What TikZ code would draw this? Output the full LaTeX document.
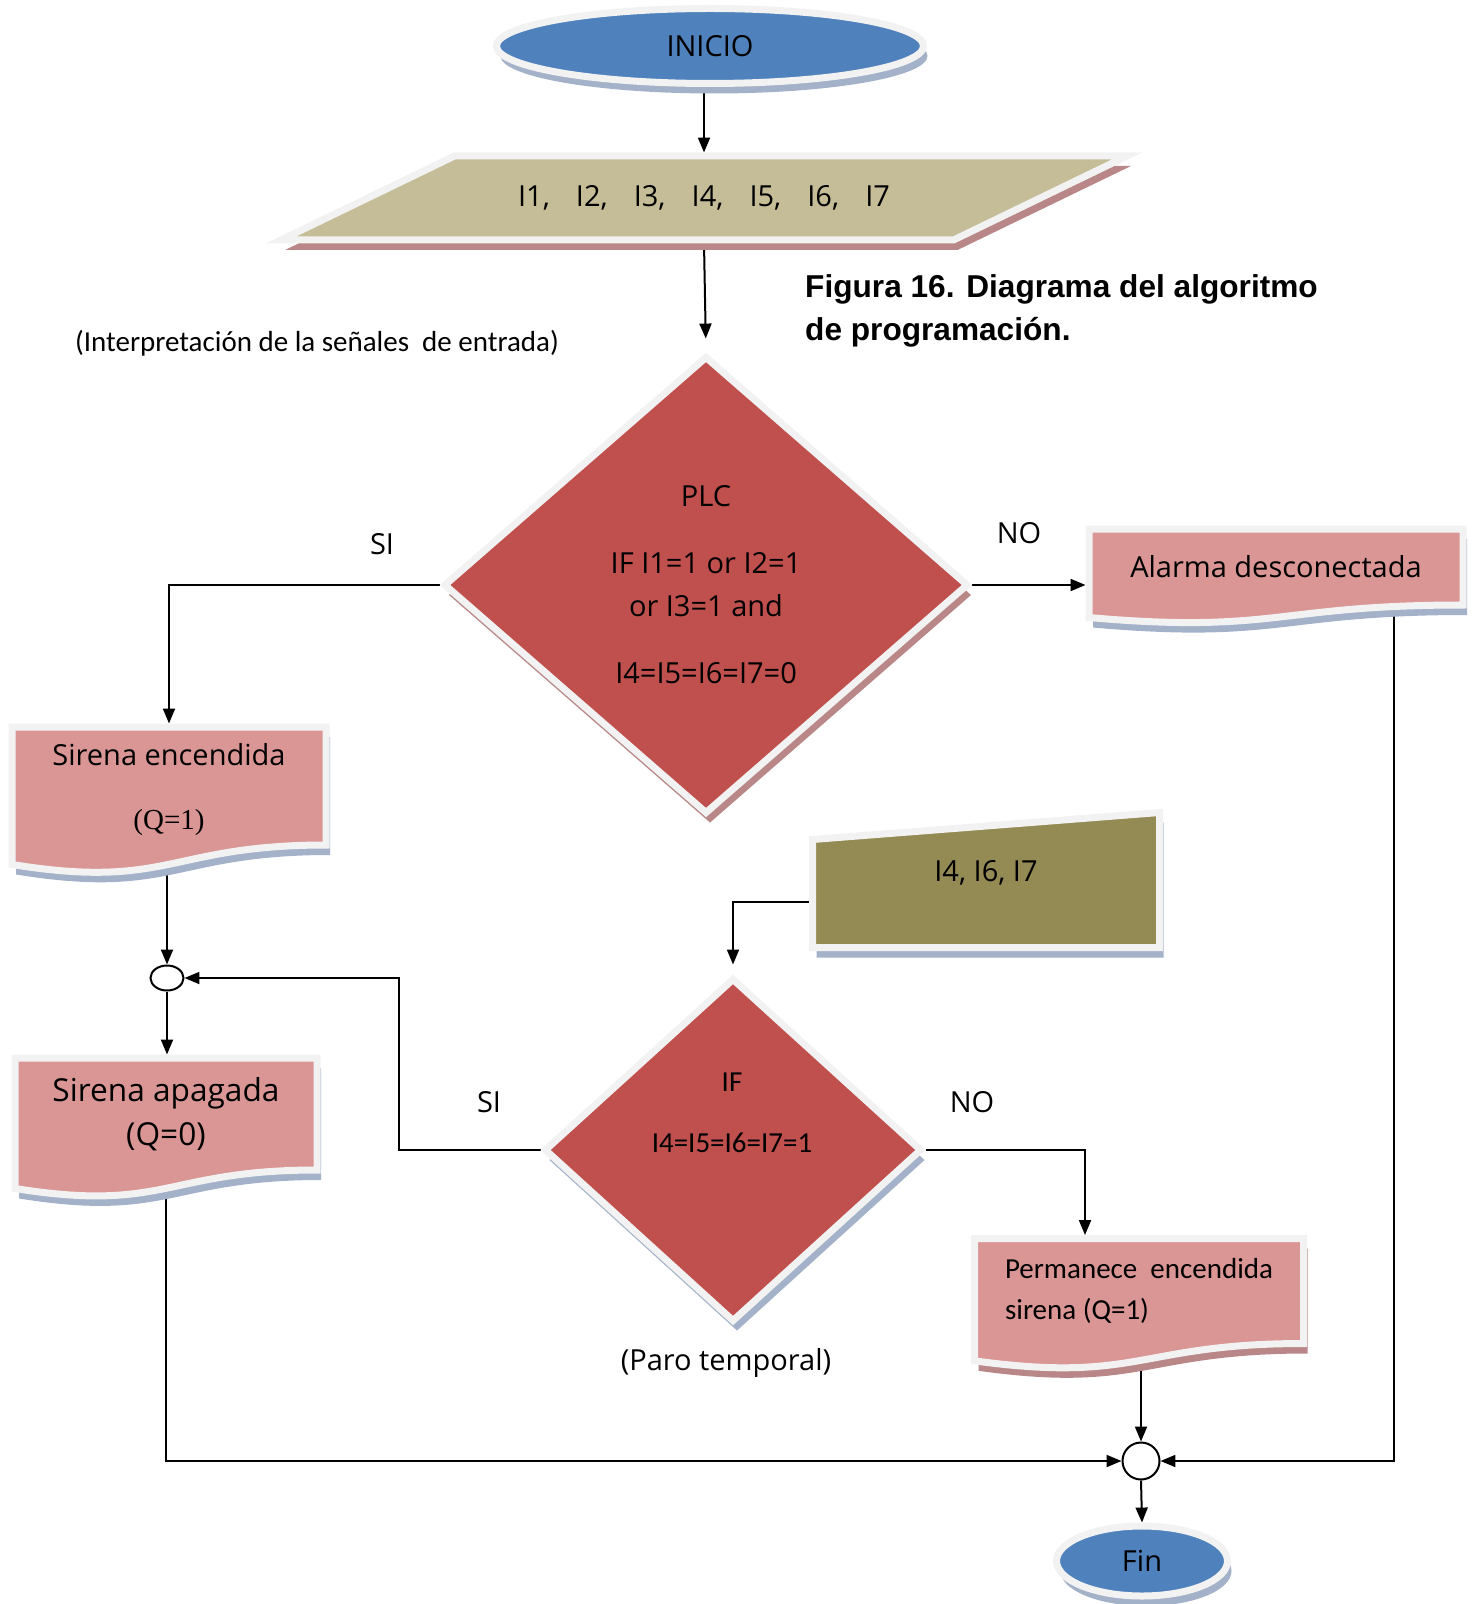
\documentclass[tikz,border=0pt]{standalone}
\usepackage{fontspec}
\setmainfont{Open Sans}
\newfontfamily\calibrifont{Carlito}
\newfontfamily\arialfont{Liberation Sans}
\newfontfamily\timesfont{Liberation Serif}
\usetikzlibrary{calc,arrows.meta,shapes.geometric,shadows,backgrounds}

\definecolor{inicioblue}{HTML}{4F81BD}
\definecolor{datostan}{HTML}{C4BD97}
\definecolor{plcred}{HTML}{C0504D}
\definecolor{docpink}{HTML}{D99694}
\definecolor{inpolive}{HTML}{948A54}
\definecolor{rimgray}{HTML}{F2F2F2}
\definecolor{shblue}{HTML}{A3B1C9}
\definecolor{shred}{HTML}{B98787}

\newdimen\pxu \pxu=0.02cm

% flowchart shapes: document (wavy bottom), manual input (sloped top), data (slanted)
\makeatletter
\newdimen\docL \newdimen\docR \newdimen\docT \newdimen\docB
\newdimen\docM \newdimen\docE \newdimen\docC
\def\docsetcorners{%
  \southwest \docL=\pgf@x \docB=\pgf@y
  \northeast \docR=\pgf@x \docT=\pgf@y
  \pgfmathsetlength\pgfutil@tempdima{\pgfkeysvalueof{/pgf/outer xsep}}%
  \pgfmathsetlength\pgfutil@tempdimb{\pgfkeysvalueof{/pgf/outer ysep}}%
  \advance\docL by \pgfutil@tempdima \advance\docR by -\pgfutil@tempdima
  \advance\docB by \pgfutil@tempdimb \advance\docT by -\pgfutil@tempdimb
  \docC=\docT \advance\docC by -\docB}
\def\docanchors{%
  \inheritsavedanchors[from=rectangle]
  \inheritanchorborder[from=rectangle]
  \inheritanchor[from=rectangle]{center}
  \inheritanchor[from=rectangle]{north}
  \inheritanchor[from=rectangle]{south}
  \inheritanchor[from=rectangle]{east}
  \inheritanchor[from=rectangle]{west}
  \inheritanchor[from=rectangle]{north east}
  \inheritanchor[from=rectangle]{north west}
  \inheritanchor[from=rectangle]{south east}
  \inheritanchor[from=rectangle]{south west}}
\pgfdeclareshape{document}{
  \docanchors
  \backgroundpath{
    \docsetcorners
    \docM=0.5\docL \advance\docM by 0.5\docR
    \docE=-0.165\docC \advance\docE by \docB
    \docC=-0.381\docC \advance\docC by \docB
    \pgfpathmoveto{\pgfqpoint{\docL}{\docT}}
    \pgfpathlineto{\pgfqpoint{\docR}{\docT}}
    \pgfpathlineto{\pgfqpoint{\docR}{\docB}}
    \pgfpathcurveto{\pgfqpoint{\docM}{\docB}}{\pgfqpoint{\docM}{\docC}}{\pgfqpoint{\docL}{\docE}}
    \pgfpathclose
  }
}
\pgfdeclareshape{manualinput}{
  \docanchors
  \backgroundpath{
    \docsetcorners
    \docE=-0.2\docC \advance\docE by \docT
    \pgfpathmoveto{\pgfqpoint{\docL}{\docE}}
    \pgfpathlineto{\pgfqpoint{\docR}{\docT}}
    \pgfpathlineto{\pgfqpoint{\docR}{\docB}}
    \pgfpathlineto{\pgfqpoint{\docL}{\docB}}
    \pgfpathclose
  }
}
\pgfdeclareshape{slantbox}{
  \docanchors
  \backgroundpath{
    \docsetcorners
    \docM=\docR \advance\docM by -\docL \docM=0.205\docM
    \docE=\docR \advance\docE by -\docM
    \docC=\docL \advance\docC by \docM
    \pgfpathmoveto{\pgfqpoint{\docL}{\docB}}
    \pgfpathlineto{\pgfqpoint{\docE}{\docB}}
    \pgfpathlineto{\pgfqpoint{\docR}{\docT}}
    \pgfpathlineto{\pgfqpoint{\docC}{\docT}}
    \pgfpathclose
  }
}
\makeatother

\tikzset{
  shape rim/.style={draw=rimgray, line width=7\pxu},
  blue shadow/.style={drop shadow={opacity=1, fill=shblue, shadow xshift=4\pxu, shadow yshift=-10\pxu}},
  red shadow/.style={drop shadow={opacity=1, fill=shred, shadow xshift=4\pxu, shadow yshift=-10\pxu}},
  comic/.style={font=\fontsize{16.5}{24.5}\selectfont},
  note/.style={font=\calibrifont\fontsize{16.5}{23.5}\selectfont},
  caption/.style={font=\arialfont\bfseries\fontsize{18}{24.5}\selectfont, align=left},
  terminal/.style={ellipse, shape rim, fill=inicioblue, blue shadow, comic},
  iobox/.style={slantbox, shape rim, fill=datostan, red shadow, inner sep=0pt, comic},
  decision/.style={diamond, shape rim, fill=plcred, inner sep=0pt, align=center, comic},
  docbox/.style={document, shape rim, fill=docpink, inner sep=0pt, align=center, comic},
  manin/.style={manualinput, shape rim, fill=inpolive, blue shadow, inner sep=0pt, comic},
  junction/.style={ellipse, draw, line width=2\pxu, fill=white, inner sep=0pt},
  arr/.style={line width=2\pxu, -{Triangle[length=8.5pt,width=6.8pt]}},
}

\begin{document}
\begin{tikzpicture}[x=\pxu, y=-\pxu]
  \useasboundingbox (0,0) rectangle (1476,1604);
  % start and inputs
  \node[terminal, minimum width=427\pxu, minimum height=75\pxu] (inicio) at (710,46) {INICIO};
  \node[iobox, minimum width=846\pxu, minimum height=84\pxu] (datos) at (704,198)
    {I1,\hspace{0.9em}I2,\hspace{0.9em}I3,\hspace{0.9em}I4,\hspace{0.9em}I5,\hspace{0.9em}I6,\hspace{0.9em}I7};
  \node[note] (interp) at (317,343) {(Interpretación de la señales~ de entrada)};
  \node[caption, anchor=west] (fig) at (799,311) {Figura 16. Diagrama del algoritmo\\de programación.};
  % first decision
  \node[decision, red shadow, minimum width=525\pxu, minimum height=458\pxu] (plc) at (706,585)
    {PLC\\[24\pxu]IF I1=1 or I2=1\\or I3=1 and\\[24\pxu]I4=I5=I6=I7=0};
  \node[comic] (si1) at (382,544) {SI};
  \node[comic] (no1) at (1019,533) {NO};
  \node[docbox, blue shadow, minimum width=374\pxu, minimum height=76\pxu] (alarma) at (1276,567) {Alarma desconectada};
  \node[docbox, blue shadow, minimum width=314\pxu, minimum height=118\pxu] (sirA) at (169,786)
    {\rule{0pt}{30\pxu}Sirena encendida\\[21\pxu]{\timesfont (Q=1)}};
  \node[junction, minimum width=33\pxu, minimum height=25\pxu] (j1) at (167,978) {};
  \node[docbox, blue shadow, minimum width=302\pxu, minimum height=112\pxu,
    font=\fontsize{18}{25}\selectfont] (sirB) at (166,1114) {Sirena apagada\\(Q=0)};
  % second decision
  \node[manin, minimum width=347\pxu, minimum height=135\pxu] (inp) at (986,880) {I4, I6, I7\rule[-18\pxu]{0pt}{1pt}};
  \node[decision, blue shadow, minimum width=378\pxu, minimum height=344\pxu] (cond) at (733,1150) {};
  \node[note, align=center] (condtxt) at (732,1113) {IF\\[20\pxu]I4=I5=I6=I7=1};
  \node[comic] (paro) at (726,1363) {(Paro temporal)};
  \node[comic] (si2) at (489,1102) {SI};
  \node[comic] (no2) at (972,1102) {NO};
  \node[docbox, red shadow, minimum width=329\pxu, minimum height=105\pxu, note, align=left] (perm) at (1139,1291)
    {Permanece~ encendida\\sirena (Q=1)};
  \node[junction, minimum size=37\pxu] (j2) at (1141,1461) {};
  \node[terminal, minimum width=171\pxu, minimum height=70\pxu] (fin) at (1142,1561) {Fin};

  % connectors, kept under the shapes
  \begin{scope}[on background layer]
    \draw[arr] (inicio.south -| datos.north) -- (datos.north);
    \draw[arr, shorten >=14\pxu] (datos.south) -- (plc.north);
    \draw[arr] (plc.west) -| (sirA.north);
    \draw[arr] (plc.east) -- (plc.east -| alarma.west);
    \draw[arr] (sirA.south -| j1.north) -- (j1.north);
    \draw[arr] (j1.south) -- (j1.south |- sirB.north);
    \draw[arr] (cond.west) -- ++(-142,0) |- (j1.east);
    \draw[arr, shorten >=10\pxu] ([yshift=-22\pxu]inp.west) -| (cond.north);
    \draw[arr] (cond.east) -| ([xshift=-54\pxu]perm.north);
    \draw[arr] (sirB.south) |- (j2.west);
    \draw[arr] (perm.south -| j2.north) -- (j2.north);
    \draw[arr] ([xshift=118\pxu]alarma.south) |- (j2.east);
    \draw[arr] (j2.south) -- (fin.north);
  \end{scope}
\end{tikzpicture}
\end{document}
